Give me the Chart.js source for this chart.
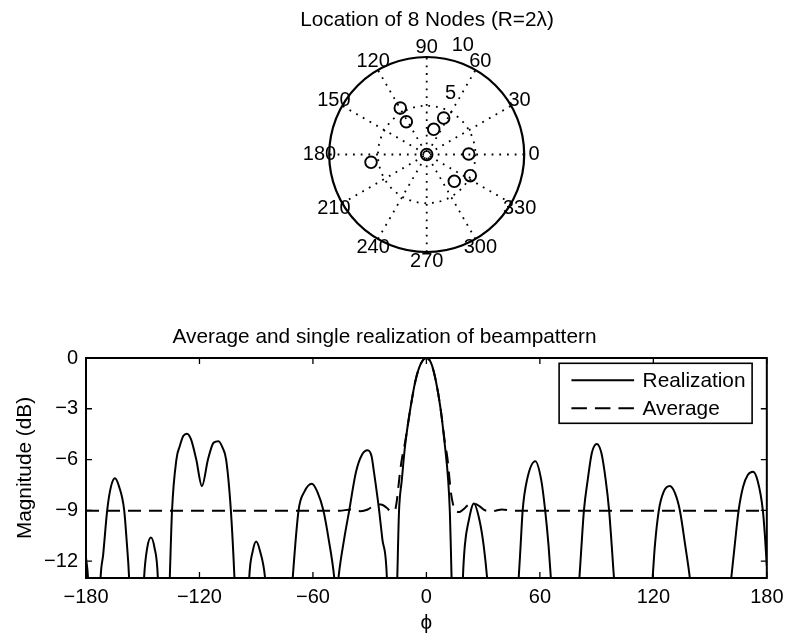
<!DOCTYPE html>
<html>
<head>
<meta charset="utf-8">
<script src="https://cdn.jsdelivr.net/npm/chart.js@4.4.1/dist/chart.umd.min.js"></script>
<style>
  html, body { margin: 0; padding: 0; background: #fff; }
  #wrap { position: relative; width: 791px; height: 634px; background: #fff; overflow: hidden; }
  canvas { position: absolute; }
  #polar { top: 0; left: 277px; }
  #beam { top: 280px; left: 0; }
</style>
</head>
<body>
<div id="wrap">
  <canvas id="polar" width="300" height="280"></canvas>
  <canvas id="beam" width="791" height="354"></canvas>
</div>
<script>
// ---------------- data: node locations (top plot) ----------------
const polarTitle = 'Location of 8 Nodes (R=2\u03BB)';
const nodeX = [-2.71, -2.09, 1.74, 0.72, 0.00, 4.31, 4.47, 2.83, -5.71];
const nodeY = [ 4.77,  3.36, 3.74, 2.58, 0.00, 0.05, -2.17, -2.75, -0.80];
const radialTicks = [5, 10];
const angleTicks = [0, 30, 60, 90, 120, 150, 180, 210, 240, 270, 300, 330];
const angleLabels = ['0', '30', '60', '90', '120', '150', '180', '210', '240', '270', '300', '330'];
const spokeAngles = [30, 60, 90, 120, 150, 180];

// ---------------- data: beampattern (bottom plot) ----------------
const beamTitle = 'Average and single realization of beampattern';
const realPhi = [
  -180, -178.8, -176,
  -172.3, -170.9, -168.8, -166.8, -164.7, -162.5, -159.8, -158.5, -157.2,
  -153.5,
  -149.3, -147.6, -145.7, -143.8, -142,
  -139,
  -135.7, -134.5, -132.2, -130.4, -128.5, -126.6, -124.5, -121.7, -118.7, -115.5, -112.5, -109.9, -107.8, -105.9, -103.4, -101.5,
  -97.5,
  -93.7, -91.8, -90, -88, -85.3,
  -78,
  -70.7, -67.6, -64.5, -60.6, -57.5, -54.5, -51.7, -48.7,
  -47.6,
  -46.5, -43.5, -40.8, -37.3, -34, -31.1, -29, -27.7, -25, -23.3, -20.9,
  -18.3,
  -15.4, -15.0, -14.5, -13, -11.3, -8.5, -5.7, -3, 0, 2.5, 4.9, 7.5, 9.8, 11.5, 12.4, 12.9, 13.3,
  16.3,
  19.3, 20.3, 22.4, 25.1, 28.1, 30.3, 32.1,
  40,
  48.8, 49.8, 50.9, 53.2, 57.6, 60.7, 62.8, 64.6, 65.8,
  73,
  80.9, 82, 83.3, 85.3, 87.5, 90.1, 92.5, 94.8, 96.6, 98, 99.2,
  110,
  119.6, 120.8, 122.9, 125.5, 128.7, 131.5, 134, 136.9, 139.3,
  150,
  161.2, 163, 165.1, 167.5, 170, 172.7, 175, 177.9, 179, 180
];
const realDb = [
  -11.8, -13.3, -25,
  -13, -11.6, -9, -7.6, -7.1, -7.6, -9, -10.8, -13,
  -25,
  -13, -11.2, -10.6, -11.2, -13,
  -25,
  -13, -9, -6.0, -5.2, -4.6, -4.47, -4.8, -6.0, -7.57, -6.0, -5.0, -4.92, -5.3, -6.0, -9, -13,
  -25,
  -13, -11.4, -10.85, -11.4, -13,
  -25,
  -13, -9, -7.9, -7.43, -7.95, -9, -10.7, -13,
  -14.5,
  -13, -10.7, -9, -6.76, -5.7, -5.45, -5.8, -6.76, -9, -10.7, -13,
  -25,
  -13, -11.1, -9.1, -7.2, -5.2, -3.0, -1.3, -0.35, 0, -0.3, -1.3, -3.0, -5.2, -7.2, -9.1, -11.1, -13,
  -25,
  -13, -11.1, -9.6, -8.6, -9.6, -11.1, -13,
  -25,
  -13, -11.1, -9, -7.2, -6.1, -7.2, -9, -11.1, -13,
  -25,
  -13, -11.1, -9, -7.2, -5.6, -5.08, -5.6, -7.2, -9, -11.1, -13,
  -25,
  -13, -11.1, -9, -7.9, -7.57, -8.0, -9, -11.1, -13,
  -25,
  -13, -11.1, -9, -7.6, -6.9, -6.72, -7.2, -9, -10.5, -12.3
];
const avgPhi = [
  -180, -50, -46, -40, -35, -31, -27.5, -24, -21, -18.5, -16.5, -15.6, -14.8, -13.8, -12.4, -11.3, -8.5, -5.7, -3, 0,
  2.5, 4.9, 7.5, 9.8, 11.1, 12.0, 12.8, 13.8, 15.5, 17.5, 19.5, 22, 25, 28, 31, 35, 40, 46, 180
];
const avgDb = [
  -9.03, -9.03, -9.03, -8.95, -9.05, -8.95, -8.7, -8.65, -8.85, -9.08, -8.95, -8.4, -7.6, -6.6, -5.6, -5.0, -3.0, -1.3, -0.35, 0,
  -0.3, -1.3, -3.0, -5.0, -5.9, -6.9, -7.8, -8.5, -9.05, -9.1, -8.95, -8.7, -8.6, -8.75, -9.0, -9.05, -8.95, -9.03, -9.03
];
const xTicks = [-180, -120, -60, 0, 60, 120, 180];
const xTickLabels = ['\u2212180', '\u2212120', '\u221260', '0', '60', '120', '180'];
const yTicks = [-12, -9, -6, -3, 0];
const yTickLabels = ['\u221212', '\u22129', '\u22126', '\u22123', '0'];
const xAxisTitle = '\u03D5';
const yAxisTitle = 'Magnitude (dB)';
const seriesNames = ['Realization', 'Average'];

// ---------------- common ----------------
const FONT = '"Liberation Sans", Arial, Helvetica, sans-serif';
const TEXT_SIZE = 20.8;
Chart.defaults.font.family = FONT;
Chart.defaults.font.size = 20;
Chart.defaults.color = '#000';

// ---------------- polar (node locations) ----------------
// canvas is 300 px wide, placed at page x = 277; polar centre at page x 426.7 -> canvas x 149.7
// 9.75 px per unit in both directions
const PX_PER_UNIT = 9.75;
const polarXMin = -149.7 / PX_PER_UNIT, polarXMax = (300 - 149.7) / PX_PER_UNIT;

const polarGrid = {
  id: 'polarGrid',
  beforeDatasetsDraw(chart) {
    const { ctx, scales: { x, y } } = chart;
    const cx = x.getPixelForValue(0), cy = y.getPixelForValue(0);
    const k = x.getPixelForValue(1) - cx;
    const rmax = radialTicks[radialTicks.length - 1];
    const rinc = radialTicks[1] - radialTicks[0];
    ctx.save();
    ctx.strokeStyle = '#000';
    ctx.lineWidth = 1.8;
    ctx.setLineDash([1.8, 5.9]);
    for (const a of spokeAngles) {
      const t = a * Math.PI / 180;
      ctx.beginPath();
      ctx.moveTo(x.getPixelForValue(-rmax * Math.cos(t)), y.getPixelForValue(-rmax * Math.sin(t)));
      ctx.lineTo(x.getPixelForValue(rmax * Math.cos(t)), y.getPixelForValue(rmax * Math.sin(t)));
      ctx.stroke();
    }
    for (const r of radialTicks.slice(0, -1)) {
      ctx.beginPath();
      ctx.arc(cx, cy, r * k, 0, 2 * Math.PI);
      ctx.stroke();
    }
    ctx.setLineDash([]);
    ctx.lineWidth = 2.2;
    ctx.beginPath();
    ctx.arc(cx, cy, rmax * k, 0, 2 * Math.PI);
    ctx.stroke();
    ctx.fillStyle = '#000';
    ctx.font = '20px ' + FONT;
    ctx.textAlign = 'center';
    ctx.textBaseline = 'middle';
    angleTicks.forEach((a, i) => {
      const t = a * Math.PI / 180;
      ctx.fillText(angleLabels[i], x.getPixelForValue(1.1 * rmax * Math.cos(t)), y.getPixelForValue(1.1 * rmax * Math.sin(t)));
    });
    ctx.textAlign = 'left';
    ctx.textBaseline = 'bottom';
    const c82 = Math.cos(82 * Math.PI / 180), s82 = Math.sin(82 * Math.PI / 180);
    radialTicks.forEach(r => {
      ctx.fillText('  ' + r, x.getPixelForValue((r + rinc / 20) * c82), y.getPixelForValue((r + rinc / 20) * s82));
    });
    ctx.restore();
  }
};

new Chart(document.getElementById('polar'), {
  type: 'scatter',
  data: {
    datasets: [{
      label: 'Nodes',
      data: nodeX.map((v, i) => ({ x: v, y: nodeY[i] })),
      pointStyle: 'circle',
      pointRadius: 5.8,
      pointBorderWidth: 1.9,
      borderColor: '#000',
      backgroundColor: 'rgba(0,0,0,0)',
      showLine: false,
      clip: false
    }]
  },
  options: {
    responsive: false,
    animation: false,
    devicePixelRatio: 1,
    layout: { autoPadding: false, padding: { left: 0, right: 0, top: 7.82, bottom: 18.25 } },
    plugins: {
      legend: { display: false },
      tooltip: { enabled: false },
      title: {
        display: true, text: polarTitle, color: '#000',
        font: { size: TEXT_SIZE, weight: 'normal', family: FONT, lineHeight: 1.2 },
        padding: { top: 0, bottom: 14.47 }
      }
    },
    scales: {
      x: { type: 'linear', min: polarXMin, max: polarXMax, display: false },
      y: { type: 'linear', min: -11, max: 11, display: false }
    }
  },
  plugins: [polarGrid]
});

// ---------------- beampattern ----------------
const axesBox = {
  id: 'axesBox',
  afterDatasetsDraw(chart) {
    const { ctx, chartArea: a, scales: { x, y } } = chart;
    ctx.save();
    ctx.strokeStyle = '#000';
    ctx.lineWidth = 2;
    ctx.setLineDash([]);
    ctx.strokeRect(a.left, a.top, a.right - a.left, a.bottom - a.top);
    ctx.lineWidth = 1.3;
    const tl = 6;
    ctx.beginPath();
    xTicks.forEach(v => {
      const px = x.getPixelForValue(v);
      ctx.moveTo(px, a.bottom); ctx.lineTo(px, a.bottom - tl);
      ctx.moveTo(px, a.top); ctx.lineTo(px, a.top + tl);
    });
    yTicks.forEach(v => {
      const py = y.getPixelForValue(v);
      ctx.moveTo(a.left, py); ctx.lineTo(a.left + tl, py);
      ctx.moveTo(a.right, py); ctx.lineTo(a.right - tl, py);
    });
    ctx.stroke();
    ctx.restore();
  }
};

const boxLegend = {
  id: 'boxLegend',
  afterDraw(chart) {
    const { ctx, chartArea: a } = chart;
    const w = 193, h = 60;
    const right = a.right - 14.7, top = a.top + 5.3, left = right - w;
    ctx.save();
    ctx.fillStyle = '#fff';
    ctx.fillRect(left, top, w, h);
    ctx.strokeStyle = '#000';
    ctx.lineWidth = 1.6;
    ctx.strokeRect(left, top, w, h);
    const rows = [top + 17, top + 45];
    const dashes = [[], [15.5, 8]];
    ctx.lineWidth = 2;
    rows.forEach((ry, i) => {
      ctx.setLineDash(dashes[i]);
      ctx.beginPath();
      ctx.moveTo(left + 12.3, ry);
      ctx.lineTo(left + 75, ry);
      ctx.stroke();
    });
    ctx.setLineDash([]);
    ctx.fillStyle = '#000';
    ctx.font = TEXT_SIZE + 'px ' + FONT;
    ctx.textAlign = 'left';
    ctx.textBaseline = 'middle';
    rows.forEach((ry, i) => ctx.fillText(seriesNames[i], left + 83.5, ry + 1));
    ctx.restore();
  }
};

new Chart(document.getElementById('beam'), {
  type: 'line',
  data: {
    datasets: [
      {
        label: seriesNames[0],
        data: realPhi.map((v, i) => ({ x: v, y: realDb[i] })),
        borderColor: '#000', borderWidth: 2, pointRadius: 0, fill: false,
        cubicInterpolationMode: 'monotone', clip: 0
      },
      {
        label: seriesNames[1],
        data: avgPhi.map((v, i) => ({ x: v, y: avgDb[i] })),
        borderColor: '#000', borderWidth: 2, pointRadius: 0, fill: false,
        borderDash: [13, 8], cubicInterpolationMode: 'monotone', clip: 0
      }
    ]
  },
  options: {
    responsive: false,
    animation: false,
    devicePixelRatio: 1,
    layout: { autoPadding: false, padding: { left: 0, right: 22, top: 45.02, bottom: 0 } },
    plugins: {
      legend: { display: false },
      tooltip: { enabled: false },
      title: {
        display: true, text: beamTitle, color: '#000',
        font: { size: TEXT_SIZE, weight: 'normal', family: FONT, lineHeight: 1.2 },
        padding: { top: 0, bottom: 8.02 }
      }
    },
    scales: {
      x: {
        type: 'linear', min: -180, max: 180,
        afterBuildTicks: s => { s.ticks = xTicks.map(v => ({ value: v })); },
        afterFit: s => { s.height = 56; },
        ticks: {
          autoSkip: false, maxRotation: 0, minRotation: 0, padding: 7.5, color: '#000',
          font: { size: 20, family: FONT },
          callback: v => { const i = xTicks.indexOf(v); return i >= 0 ? xTickLabels[i] : ''; }
        },
        grid: { display: false, drawTicks: false },
        border: { display: false },
        title: { display: true, text: xAxisTitle, color: '#000', padding: 0, font: { size: TEXT_SIZE, family: FONT, lineHeight: 1 } }
      },
      y: {
        type: 'linear', min: -13, max: 0,
        afterBuildTicks: s => { s.ticks = yTicks.map(v => ({ value: v })); },
        afterFit: s => { s.width = 86; },
        ticks: {
          autoSkip: false, padding: 8, color: '#000',
          font: { size: 20, family: FONT },
          callback: v => { const i = yTicks.indexOf(v); return i >= 0 ? yTickLabels[i] : ''; }
        },
        grid: { display: false, drawTicks: false },
        border: { display: false },
        title: { display: true, text: yAxisTitle, color: '#000', padding: { top: 12.52, bottom: 0 }, font: { size: TEXT_SIZE, family: FONT, lineHeight: 1.2 } }
      }
    }
  },
  plugins: [axesBox, boxLegend]
});
</script>
</body>
</html>
